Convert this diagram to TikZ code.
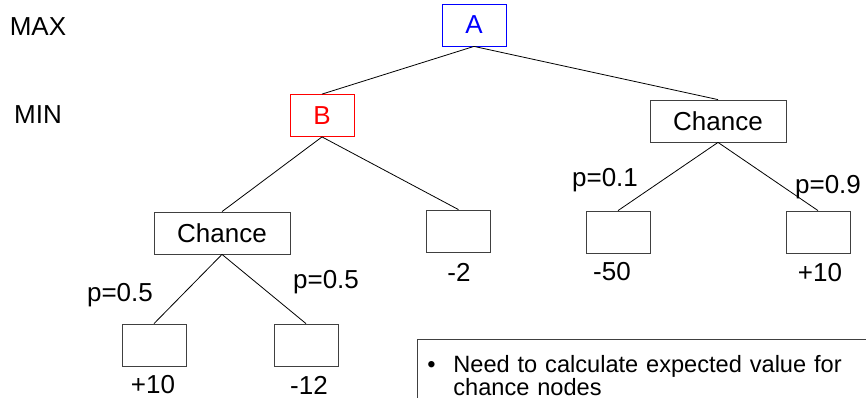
\documentclass[tikz,border=0pt]{standalone}
\usepackage{fontspec}
\setmainfont{Liberation Sans}
\usepackage{tikz}

\begin{document}
\begin{tikzpicture}[x=0.75pt,y=0.75pt,yscale=-1,
	every node/.style={font=\fontsize{19.5}{23}\selectfont},
	statebox/.style={draw={rgb, 255:red, 64; green, 64; blue, 64 },line width=0.6pt,minimum width=48pt,minimum height=31.5pt,inner sep=0pt},
	chancebox/.style={statebox,minimum width=102pt},
	branch/.style={draw={rgb, 255:red, 0; green, 0; blue, 0 },line width=0.6pt}]
				\clip (0,0) rectangle (866,397);
				\useasboundingbox (0,0) rectangle (866,397);
				
				%Text: levels
				\node (max) at (38,27) {MAX};
				\node (min) at (38,115) {MIN};
				
				%Shape: Rectangle [A]
				\node [statebox,draw={rgb, 255:red, 0; green, 0; blue, 255 },text={rgb, 255:red, 0; green, 0; blue, 255 }] (A) at (474,25) {A};
				%Shape: Rectangle [B]
				\node [statebox,draw={rgb, 255:red, 255; green, 0; blue, 0 },text={rgb, 255:red, 255; green, 0; blue, 0 }] (B) at (322,115.5) {B};
				%Shape: Rectangle [chance nodes]
				\node [chancebox] (chR) at (718,121) {Chance};
				\node [chancebox] (chL) at (222,233) {Chance};
				%Shape: Rectangle [leaves]
				\node [statebox] (m2) at (458.5,231) {};
				\node [statebox] (m50) at (618,232) {};
				\node [statebox] (p10R) at (818,232) {};
				\node [statebox] (p10L) at (154,345) {};
				\node [statebox] (m12) at (306,345) {};
				
				%Straight Lines
				\draw [branch] (A.south) -- (B.north) ;
				\draw [branch] (A.south) -- (chR.north) ;
				\draw [branch] (B.south) -- (chL.north) ;
				\draw [branch] (B.south) -- (m2.north) ;
				\draw [branch] (chR.south) -- (m50.north) ;
				\draw [branch] (chR.south) -- (p10R.north) ;
				\draw [branch] (chL.south) -- (p10L.north) ;
				\draw [branch] (chL.south) -- (m12.north) ;
				
				%Text: probabilities
				\node (pL1) at (120,295) {p=0.5};
				\node (pL2) at (326,282) {p=0.5};
				\node (pR1) at (605,180) {p=0.1};
				\node (pR2) at (828,187) {p=0.9};
				
				%Text: values
				\node (vm2) at (459,272) {-2};
				\node (vm50) at (612,272) {-50};
				\node (vp10R) at (820,273) {+10};
				\node (vp10L) at (153,385) {+10};
				\node (vm12) at (309,385) {-12};
				
				%Shape: Text box
				\node [draw={rgb, 255:red, 64; green, 64; blue, 64 },line width=0.6pt,anchor=north west,inner xsep=7.5pt,inner ysep=12pt,text width=360pt,align=left,font=\fontsize{17.7}{17.5}\selectfont] (note) at (417,339)
				{\makebox[19.5pt][l]{\textbullet}Need to calculate expected value for\\\hspace*{19.5pt}chance nodes};
				
			\end{tikzpicture}
\end{document}
